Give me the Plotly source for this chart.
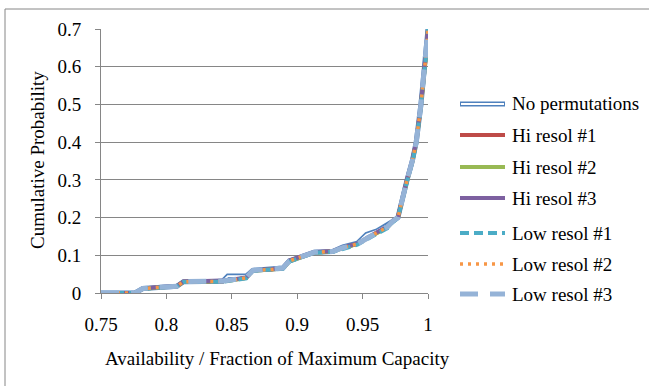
import plotly.graph_objects as go

# Availability (fraction of maximum capacity) grid
availability = [0.750, 0.776, 0.782, 0.800, 0.808, 0.813, 0.830, 0.843, 0.847, 0.861, 0.866,
                0.880, 0.889, 0.894, 0.902, 0.907, 0.913, 0.927, 0.935, 0.946, 0.953,
                0.961, 0.969, 0.973, 0.977, 0.979, 0.981, 0.984, 0.988, 0.991, 0.9946,
                0.9977, 0.999, 1.000]

no_perm = [0, 0, 0.012, 0.017, 0.018, 0.030, 0.030, 0.031, 0.045, 0.045, 0.060,
           0.062, 0.066, 0.085, 0.095, 0.100, 0.108, 0.110, 0.122, 0.132, 0.155,
           0.165, 0.180, 0.190, 0.200, 0.230, 0.260, 0.300, 0.350, 0.400, 0.500,
           0.600, 0.650, 0.700]
hi_1 = [0, 0, 0.012, 0.017, 0.018, 0.030, 0.030, 0.031, 0.033, 0.040, 0.060,
        0.062, 0.066, 0.085, 0.095, 0.100, 0.108, 0.110, 0.120, 0.130, 0.145,
        0.160, 0.175, 0.190, 0.200, 0.230, 0.260, 0.300, 0.350, 0.400, 0.500,
        0.600, 0.650, 0.700]
hi_2 = [0, 0, 0.011, 0.016, 0.018, 0.029, 0.030, 0.031, 0.032, 0.040, 0.059,
        0.062, 0.065, 0.084, 0.095, 0.100, 0.107, 0.110, 0.119, 0.130, 0.144,
        0.158, 0.174, 0.189, 0.200, 0.228, 0.258, 0.298, 0.348, 0.398, 0.498,
        0.598, 0.648, 0.700]
hi_3 = [0, 0, 0.012, 0.017, 0.019, 0.030, 0.031, 0.032, 0.034, 0.041, 0.060,
        0.063, 0.067, 0.086, 0.096, 0.101, 0.109, 0.111, 0.121, 0.131, 0.146,
        0.161, 0.176, 0.191, 0.201, 0.232, 0.262, 0.302, 0.352, 0.402, 0.502,
        0.602, 0.652, 0.700]
lo_1 = [0, 0, 0.011, 0.016, 0.018, 0.029, 0.029, 0.030, 0.032, 0.039, 0.059,
        0.061, 0.064, 0.083, 0.094, 0.099, 0.107, 0.109, 0.118, 0.128, 0.142,
        0.157, 0.172, 0.188, 0.199, 0.227, 0.257, 0.297, 0.347, 0.397, 0.497,
        0.597, 0.647, 0.700]
lo_2 = [0, 0, 0.012, 0.017, 0.018, 0.030, 0.030, 0.031, 0.033, 0.040, 0.060,
        0.062, 0.066, 0.085, 0.095, 0.100, 0.108, 0.110, 0.120, 0.130, 0.145,
        0.160, 0.175, 0.190, 0.200, 0.230, 0.260, 0.300, 0.350, 0.400, 0.500,
        0.600, 0.650, 0.700]
lo_3 = [0, 0, 0.012, 0.017, 0.018, 0.030, 0.030, 0.032, 0.034, 0.040, 0.060,
        0.062, 0.066, 0.085, 0.095, 0.100, 0.108, 0.110, 0.120, 0.130, 0.145,
        0.160, 0.175, 0.190, 0.200, 0.230, 0.260, 0.300, 0.350, 0.400, 0.500,
        0.600, 0.650, 0.700]

series_names = ["No permutations", "Hi resol #1", "Hi resol #2", "Hi resol #3",
                "Low resol #1", "Low resol #2", "Low resol #3"]
series_values = [no_perm, hi_1, hi_2, hi_3, lo_1, lo_2, lo_3]
colors = ["#4F81BD", "#BE4B48", "#98B954", "#7D60A0", "#4BACC6", "#F79646", "#95B3D7"]
widths = [5, 4, 4, 4, 4, 3.5, 5]
dashes = ["solid", "solid", "solid", "solid", "9px,5px", "3px,5px", "18px,12px"]

x_ticks = [0.75, 0.8, 0.85, 0.9, 0.95, 1.0]
x_tick_text = ["0.75", "0.8", "0.85", "0.9", "0.95", "1"]
y_ticks = [0, 0.1, 0.2, 0.3, 0.4, 0.5, 0.6, 0.7]
y_tick_text = ["0", "0.1", "0.2", "0.3", "0.4", "0.5", "0.6", "0.7"]

FONT = "Liberation Serif"
GRAY = "#868686"
FS = 19

fig = go.Figure()
for i, (name, vals) in enumerate(zip(series_names, series_values)):
    fig.add_trace(go.Scatter(x=availability, y=vals, mode="lines", name=name,
                             line=dict(color=colors[i], width=widths[i], dash=dashes[i]),
                             showlegend=False))
    if i == 0:
        fig.add_trace(go.Scatter(x=availability, y=vals, mode="lines", name=name,
                                 line=dict(color="white", width=1.8), showlegend=False,
                                 hoverinfo="skip"))

W, H = 649, 386
L, R, T, B = 101, 428, 29, 293


def px2x(px):
    return (px - L) / (R - L)


def py2y(py):
    return (B - py) / (B - T)


shapes = []
annotations = []
# outer chart border
shapes.append(dict(type="rect", xref="paper", yref="paper",
                   x0=px2x(5), x1=px2x(660), y0=py2y(9), y1=py2y(400),
                   line=dict(color=GRAY, width=1), layer="below"))

# legend
leg_y = [104, 135, 167, 198, 233, 264, 294]
for i, name in enumerate(series_names):
    yy = py2y(leg_y[i])
    shapes.append(dict(type="line", xref="paper", yref="paper",
                       x0=px2x(460), x1=px2x(505), y0=yy, y1=yy,
                       line=dict(color=colors[i], width=widths[i], dash=dashes[i])))
    if i == 0:
        shapes.append(dict(type="line", xref="paper", yref="paper",
                           x0=px2x(461), x1=px2x(504), y0=yy, y1=yy,
                           line=dict(color="white", width=1.8)))
    annotations.append(dict(text=name, xref="paper", yref="paper", x=px2x(510), y=yy,
                            xanchor="left", yanchor="middle", showarrow=False,
                            font=dict(family=FONT, size=FS, color="black")))

# axis titles
annotations.append(dict(text="Availability / Fraction of Maximum Capacity",
                        xref="paper", yref="paper", x=px2x(277), y=py2y(358),
                        xanchor="center", yanchor="middle", showarrow=False,
                        font=dict(family=FONT, size=FS, color="black")))
annotations.append(dict(text="Cumulative Probability", textangle=-90,
                        xref="paper", yref="paper", x=px2x(37), y=py2y(160),
                        xanchor="center", yanchor="middle", showarrow=False,
                        font=dict(family=FONT, size=FS, color="black")))

fig.update_layout(
    width=W, height=H,
    margin=dict(l=L, r=W - R, t=T, b=H - B),
    paper_bgcolor="white", plot_bgcolor="white",
    font=dict(family=FONT, size=FS, color="black"),
    shapes=shapes, annotations=annotations,
    xaxis=dict(range=[0.75, 1.0], tickvals=x_ticks, ticktext=x_tick_text,
               showgrid=False, zeroline=False, showline=True, linecolor=GRAY,
               linewidth=1, ticks="outside", ticklen=5, tickcolor=GRAY,
               ticklabelstandoff=9, tickfont=dict(family=FONT, size=FS)),
    yaxis=dict(range=[0, 0.7], tickvals=y_ticks, ticktext=y_tick_text,
               showgrid=True, gridcolor=GRAY, gridwidth=1, zeroline=False,
               showline=True, linecolor=GRAY, linewidth=1, ticks="outside",
               ticklen=5, tickcolor=GRAY, ticklabelstandoff=10,
               tickfont=dict(family=FONT, size=FS)),
)

fig.write_html("out.html")
